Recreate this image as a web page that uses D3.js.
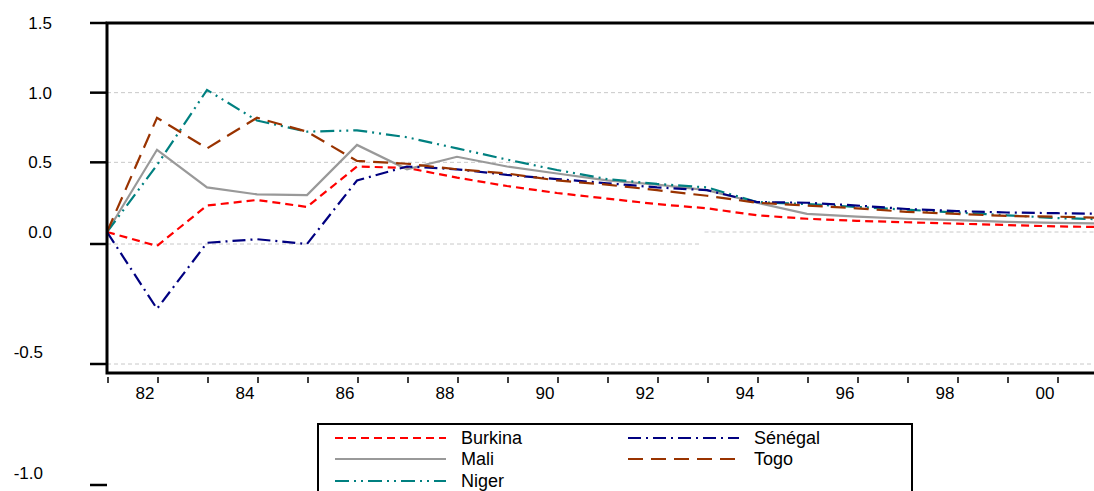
<!DOCTYPE html>
<html>
<head>
<meta charset="utf-8">
<script src="https://cdn.jsdelivr.net/npm/d3@7"></script>
<style>
  body { margin: 0; background: #fff; }
  text { font-family: "Liberation Sans", Arial, sans-serif; fill: #000; }
</style>
</head>
<body>
<svg width="1094" height="491"></svg>
<script>
// years 1981..2001
var years = d3.range(1981, 2002);

var burkina = [0, -0.058, 0.19, 0.23, 0.18, 0.47, 0.46, 0.39, 0.33, 0.28, 0.24, 0.20, 0.17, 0.12, 0.095, 0.08, 0.07, 0.06, 0.05, 0.04, 0.035];
var mali    = [0, 0.59, 0.32, 0.27, 0.265, 0.625, 0.45, 0.54, 0.47, 0.42, 0.37, 0.34, 0.30, 0.21, 0.13, 0.11, 0.095, 0.085, 0.072, 0.065, 0.06];
var niger   = [0, 0.48, 1.02, 0.80, 0.72, 0.73, 0.68, 0.60, 0.52, 0.445, 0.38, 0.345, 0.32, 0.215, 0.20, 0.18, 0.16, 0.14, 0.12, 0.10, 0.09];
var senegal = [0, -0.32, -0.045, -0.03, -0.05, 0.37, 0.47, 0.45, 0.41, 0.38, 0.35, 0.32, 0.30, 0.215, 0.21, 0.19, 0.165, 0.15, 0.14, 0.135, 0.13];
var togo    = [0, 0.82, 0.60, 0.82, 0.72, 0.51, 0.49, 0.45, 0.42, 0.37, 0.34, 0.30, 0.26, 0.21, 0.19, 0.17, 0.145, 0.13, 0.115, 0.11, 0.10];

var yTicks = [1.5, 1.0, 0.5, 0.0, -0.5, -1.0];
var gridVals = [1.0, 0.5, 0.0, -0.5];

var series = [
  { name: 'Burkina', values: burkina, color: '#ff0000', dash: '8,5' },
  { name: 'Mali', values: mali, color: '#999999', dash: null },
  { name: 'Niger', values: niger, color: '#008080', dash: '14,5,2,5,2,5' },
  { name: 'Sénégal', values: senegal, color: '#000080', dash: '13,5,2,5' },
  { name: 'Togo', values: togo, color: '#993300', dash: '15,8' }
];

var svg = d3.select('svg');

var x = d3.scaleLinear().domain([1981, 2001]).range([107, 1107]);
// the picture is squeezed below zero, so the scale is piecewise
var y = d3.scaleLinear().domain([-1, -0.5, 0, 1.5]).range([473, 352, 232, 23]);

// ticks at zero and below sit a bit lower than their labels in the original
var tickY = function(v) { return v <= 0 ? y(v) + 12 : y(v); };

// gridlines
gridVals.forEach(function(v) {
  if (v === 0) {
    svg.append('line').attr('class', 'grid')
      .attr('x1', x(1981)).attr('x2', x(1992.85))
      .attr('y1', tickY(0)).attr('y2', tickY(0));
    svg.append('line').attr('class', 'grid')
      .attr('x1', x(1992.95)).attr('x2', 1094)
      .attr('y1', y(0)).attr('y2', y(0));
  } else {
    svg.append('line').attr('class', 'grid')
      .attr('x1', x(1981)).attr('x2', 1094)
      .attr('y1', tickY(v)).attr('y2', tickY(v));
  }
});
svg.selectAll('.grid')
  .attr('stroke', '#c8c8c8')
  .attr('stroke-width', 1)
  .attr('stroke-dasharray', '4,3');

// lines
var line = d3.line()
  .x(function(d, i) { return x(years[i]); })
  .y(function(d) { return y(d); });

svg.append('g')
  .selectAll('path')
  .data(series)
  .enter().append('path')
  .attr('d', function(d) { return line(d.values); })
  .attr('fill', 'none')
  .attr('stroke', function(d) { return d.color; })
  .attr('stroke-width', 2.2)
  .attr('stroke-dasharray', function(d) { return d.dash; });

// frame
var bottom = 373;
svg.append('path')
  .attr('d', 'M1094,' + y(1.5) + 'H' + x(1981) + 'V' + bottom + 'H1094')
  .attr('fill', 'none')
  .attr('stroke', '#000')
  .attr('stroke-width', 3);

// y ticks and labels
svg.selectAll('.ytick')
  .data(yTicks)
  .enter().append('line')
  .attr('class', 'ytick')
  .attr('x1', 90).attr('x2', x(1981))
  .attr('y1', tickY).attr('y2', tickY)
  .attr('stroke', '#000')
  .attr('stroke-width', 2.5);

var fmt = d3.format('.1f');
svg.selectAll('.ylab')
  .data(yTicks)
  .enter().append('text')
  .attr('class', 'ylab')
  .attr('x', function(d) { return d < 0 ? 43 : 52; })
  .attr('y', function(d) { return y(d); })
  .attr('dy', '0.35em')
  .attr('text-anchor', 'end')
  .style('font-size', '17px')
  .text(function(d) { return fmt(d).replace('\u2212', '-'); });

// x ticks and labels
var xTicks = d3.range(1981, 2001);
svg.selectAll('.xtick')
  .data(xTicks)
  .enter().append('line')
  .attr('class', 'xtick')
  .attr('x1', function(d) { return x(d) + 1; }).attr('x2', function(d) { return x(d) + 1; })
  .attr('y1', 377).attr('y2', 383)
  .attr('stroke', '#000')
  .attr('stroke-width', 1.5);

svg.selectAll('.xlab')
  .data(xTicks.filter(function(d) { return d % 2 === 0; }))
  .enter().append('text')
  .attr('class', 'xlab')
  .attr('x', function(d) { return x(d) - 12; })
  .attr('y', 393)
  .attr('dy', '0.35em')
  .attr('text-anchor', 'middle')
  .style('font-size', '17px')
  .text(function(d) { return d3.format('02d')(d % 100); });

// legend
svg.append('rect')
  .attr('x', 318).attr('y', 424)
  .attr('width', 594).attr('height', 90)
  .attr('fill', 'none')
  .attr('stroke', '#000')
  .attr('stroke-width', 2);

var legPos = [
  { lx: 335, ty: 438 }, { lx: 335, ty: 459 }, { lx: 335, ty: 481 },
  { lx: 628, ty: 438 }, { lx: 628, ty: 459 }
];

var leg = svg.selectAll('.leg')
  .data(series)
  .enter().append('g')
  .attr('class', 'leg')
  .attr('transform', function(d, i) { return 'translate(' + legPos[i].lx + ',' + legPos[i].ty + ')'; });

leg.append('line')
  .attr('x1', 0).attr('x2', 111)
  .attr('y1', 0).attr('y2', 0)
  .attr('stroke', function(d) { return d.color; })
  .attr('stroke-width', 2.2)
  .attr('stroke-dasharray', function(d) { return d.dash; });

leg.append('text')
  .attr('x', 126)
  .attr('dy', '0.35em')
  .style('font-size', '18px')
  .text(function(d) { return d.name; });
</script>
</body>
</html>
